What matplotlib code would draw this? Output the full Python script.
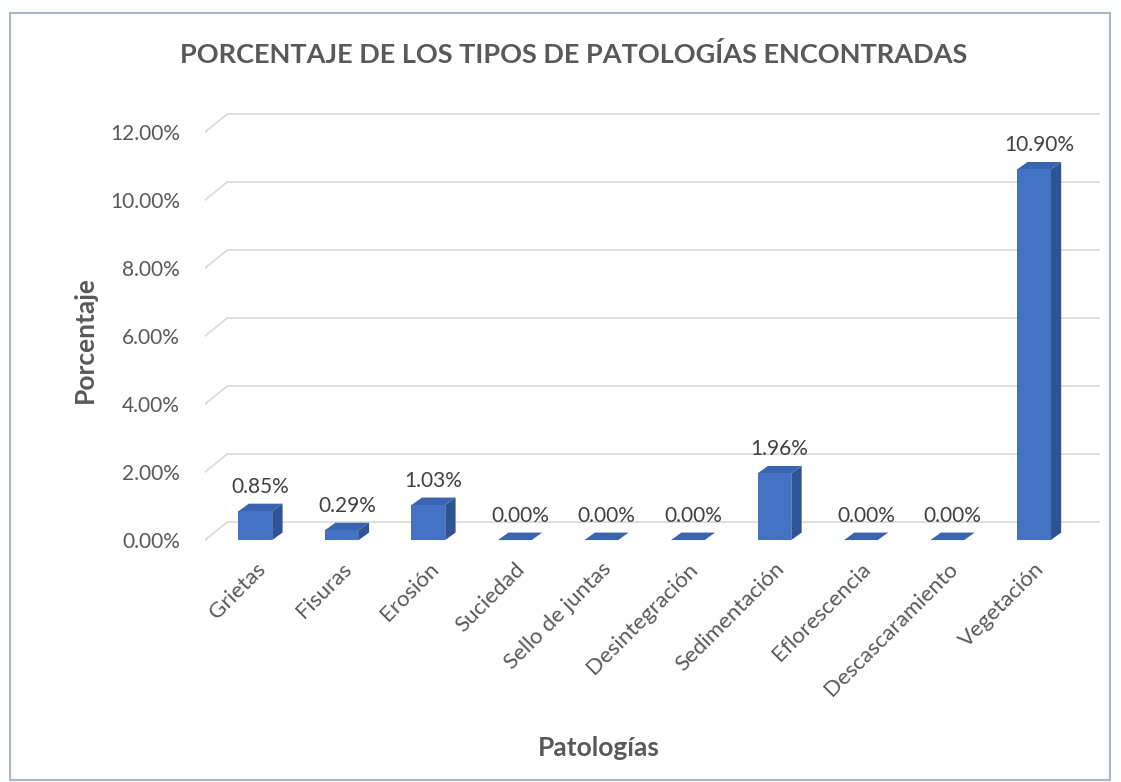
import matplotlib.pyplot as plt
from matplotlib.patches import Polygon, Rectangle

categorias = ["Grietas", "Fisuras", "Erosión", "Suciedad", "Sello de juntas",
              "Desintegración", "Sedimentación", "Eflorescencia",
              "Descascaramiento", "Vegetación"]
porcentajes = [0.85, 0.29, 1.03, 0.00, 0.00, 0.00, 1.96, 0.00, 0.00, 10.90]
ticks_y = [0, 2, 4, 6, 8, 10, 12]

plt.rcParams['font.family'] = ['Lato', 'DejaVu Sans']
gris = '#595959'

fig = plt.figure(figsize=(11.21, 7.82), dpi=100)
fig.patches.append(Rectangle((0.009, 0.003), 0.981, 0.981, transform=fig.transFigure,
                             fill=False, edgecolor='#A9B7C3', lw=1.5))

ax = fig.add_axes([0.183, 0.303, 0.798, 0.569])
ax.set_xlim(-0.58, 9.76)
ax.set_ylim(-0.147, 12.94)
for s in ax.spines.values():
    s.set_visible(False)

# profundidad del suelo (pared del fondo) y de las barras, en unidades de datos
fx, fy = 0.254, 0.53
bx, by = 0.12, 0.22
ancho = 0.39

# rejilla con el tramo inclinado a la izquierda
for t in ticks_y:
    ax.plot([-0.58, -0.58 + fx, 9.76], [t, t + fy, t + fy],
            color='#D9D9D9', lw=1.2, zorder=0)

frente, lado, tapa = '#4472C4', '#2E5496', '#3A64B0'
for i, v in enumerate(porcentajes):
    x0, x1 = i - ancho / 2, i + ancho / 2
    ax.add_patch(Polygon([(x1, 0), (x1 + bx, by), (x1 + bx, v + by), (x1, v)],
                         closed=True, facecolor=lado, edgecolor='none', zorder=2))
    ax.add_patch(Polygon([(x0, v), (x0 + bx, v + by), (x1 + bx, v + by), (x1, v)],
                         closed=True, facecolor=tapa, edgecolor='none', zorder=2))
    ax.add_patch(Rectangle((x0, 0), ancho, v, facecolor=frente,
                           edgecolor='none', zorder=3))
    ax.text(i + bx / 2, v + by + 0.2, f"{v:.2f}%", ha='center', va='bottom',
            fontsize=15, color='#404040')

ax.set_yticks(ticks_y, [f"{t:.2f}%" for t in ticks_y])
ax.tick_params(axis='y', length=0, pad=18, labelsize=15, labelcolor=gris)
ax.set_xticks(range(len(categorias)), categorias, rotation=45, ha='right',
              rotation_mode='anchor')
ax.tick_params(axis='x', length=0, pad=10, labelsize=16, labelcolor=gris)

fig.text(0.076, 0.566, "Porcentaje", rotation=90, ha='center', va='center',
         fontsize=19, fontweight='bold', color=gris)
fig.text(0.534, 0.043, "Patologías", ha='center', va='center', fontsize=19,
         fontweight='bold', color=gris)
fig.text(0.512, 0.93, "PORCENTAJE DE LOS TIPOS DE PATOLOGÍAS ENCONTRADAS",
         ha='center', va='center', fontsize=19.5, fontweight='bold', color=gris)

fig.savefig("out.png", dpi=100)
